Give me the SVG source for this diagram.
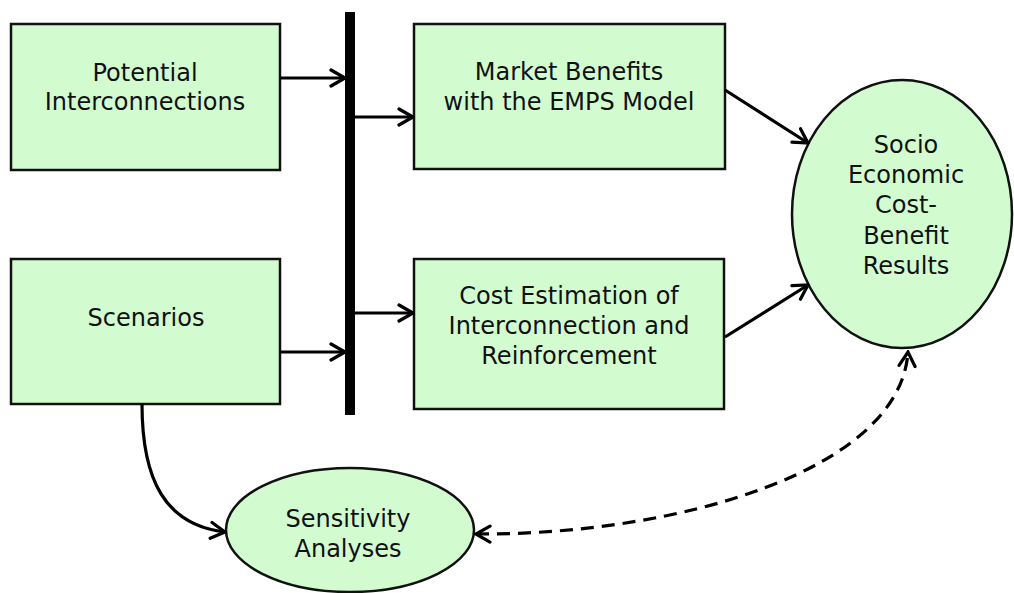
<svg xmlns="http://www.w3.org/2000/svg" width="1014" height="593" viewBox="0 0 1014 593">
<defs>
<marker id="arr" viewBox="0 0 18 20" refX="16" refY="10" markerWidth="18" markerHeight="20" markerUnits="userSpaceOnUse" orient="auto-start-reverse">
<path d="M2,2 L16,10 L2,18" fill="none" stroke="#000" stroke-width="3.2" stroke-linecap="round" stroke-linejoin="miter"/>
</marker>
<style>
.box{fill:#d3fbd0;stroke:#111;stroke-width:2.5}
.t{font-family:"DejaVu Sans",Verdana,sans-serif;font-size:24px;fill:#111;text-anchor:middle}
.c{fill:none;stroke:#000;stroke-width:3.2}
</style>
</defs>
<rect width="1014" height="593" fill="#fff"/>
<g id="potential">
<rect class="box" x="11" y="24" width="269" height="146"/>
<text class="t" x="145" y="81">Potential</text>
<text class="t" x="145" y="110">Interconnections</text>
</g>
<g id="scenarios">
<rect class="box" x="11" y="259" width="269" height="145"/>
<text class="t" x="146" y="326">Scenarios</text>
</g>
<g id="market">
<rect class="box" x="414" y="24" width="311" height="145"/>
<text class="t" x="569" y="80">Market Benefits</text>
<text class="t" x="569" y="110">with the EMPS Model</text>
</g>
<g id="cost">
<rect class="box" x="414" y="259" width="310" height="150"/>
<text class="t" x="569" y="304">Cost Estimation of</text>
<text class="t" x="569" y="334">Interconnection and</text>
<text class="t" x="569" y="364">Reinforcement</text>
</g>
<g id="socio">
<ellipse class="box" cx="902" cy="214" rx="110" ry="134"/>
<text class="t" x="906" y="153">Socio</text>
<text class="t" x="906" y="183">Economic</text>
<text class="t" x="906" y="213">Cost-</text>
<text class="t" x="906" y="244">Benefit</text>
<text class="t" x="906" y="274">Results</text>
</g>
<g id="sensitivity">
<ellipse class="box" cx="350" cy="530" rx="124" ry="62"/>
<text class="t" x="348" y="527">Sensitivity</text>
<text class="t" x="348" y="557">Analyses</text>
</g>
<g id="bar">
<rect x="345" y="12" width="10" height="403" fill="#000"/>
</g>
<g id="connectors">
<line class="c" x1="280" y1="78" x2="345" y2="78" marker-end="url(#arr)"/>
<line class="c" x1="355" y1="117" x2="413" y2="117" marker-end="url(#arr)"/>
<line class="c" x1="280" y1="352" x2="345" y2="352" marker-end="url(#arr)"/>
<line class="c" x1="355" y1="313" x2="413" y2="313" marker-end="url(#arr)"/>
<line class="c" x1="725" y1="90" x2="808" y2="143" marker-end="url(#arr)"/>
<line class="c" x1="725" y1="337" x2="808" y2="285" marker-end="url(#arr)"/>
<path class="c" d="M142,404 C142,480 165,525 225,532" marker-end="url(#arr)"/>
<path class="c" d="M476,534 C680,535 900,470 908,352" stroke-dasharray="13,8" marker-start="url(#arr)" marker-end="url(#arr)"/>
</g>
</svg>
